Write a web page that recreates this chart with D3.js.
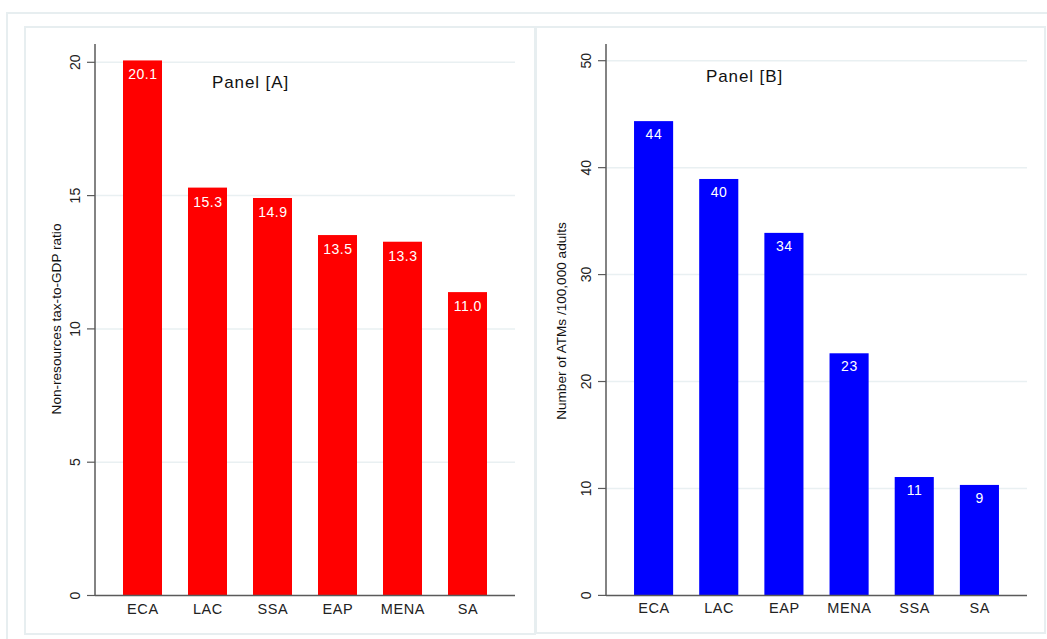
<!DOCTYPE html>
<html>
<head>
<meta charset="utf-8">
<script src="https://cdn.jsdelivr.net/npm/d3@7"></script>
<style>
  html, body { margin: 0; padding: 0; background: #ffffff; }
  svg { display: block; font-family: "Liberation Sans", Arial, Helvetica, sans-serif; }
</style>
</head>
<body>
<svg id="chart" width="1047" height="639"></svg>
<script>
// ---- data ----
const categoriesA = ["ECA", "LAC", "SSA", "EAP", "MENA", "SA"];
const valuesA = [20.07, 15.30, 14.91, 13.52, 13.27, 11.38];
const labelsA = ["20.1", "15.3", "14.9", "13.5", "13.3", "11.0"];
const ticksA = [0, 5, 10, 15, 20];
const titleA = "Panel [A]";
const yTitleA = "Non-resources tax-to-GDP ratio";

const categoriesB = ["ECA", "LAC", "EAP", "MENA", "SSA", "SA"];
const valuesB = [44.35, 38.94, 33.9, 22.64, 11.07, 10.33];
const labelsB = ["44", "40", "34", "23", "11", "9"];
const ticksB = [0, 10, 20, 30, 40, 50];
const titleB = "Panel [B]";
const yTitleB = "Number of ATMs /100,000 adults";

// ---- drawing ----
const svg = d3.select("#chart");
const frameColor = "#e7eef0";
const gridColor = "#e9f0f2";
const axisColor = "#5a5a5a";

// outer frame
svg.append("rect").attr("x", 7).attr("y", 13).attr("width", 1060).attr("height", 650)
  .attr("fill", "#fff").attr("stroke", frameColor).attr("stroke-width", 2);

function panel(cfg) {
  const g = svg.append("g");
  g.append("rect").attr("x", cfg.bx).attr("y", cfg.by).attr("width", cfg.bw).attr("height", cfg.bh)
    .attr("fill", "#fff").attr("stroke", frameColor).attr("stroke-width", 2);

  const y = d3.scaleLinear().domain([0, cfg.topVal]).range([cfg.y0, cfg.yTop]);
  const x = d3.scaleBand().domain(cfg.categories)
    .range([cfg.x0 + 15, cfg.x1 - 15]).paddingInner(0.4).paddingOuter(0.2);

  // gridlines
  g.selectAll(".grid").data(cfg.ticks.filter(t => t > 0)).enter().append("line")
    .attr("x1", cfg.x0).attr("x2", cfg.x1)
    .attr("y1", d => y(d)).attr("y2", d => y(d))
    .attr("stroke", gridColor).attr("stroke-width", 1.5);

  // bars
  g.selectAll(".bar").data(cfg.values).enter().append("rect")
    .attr("x", (d, i) => x(cfg.categories[i]))
    .attr("width", x.bandwidth())
    .attr("y", d => y(d))
    .attr("height", d => y(0) - y(d))
    .attr("fill", cfg.color);

  // bar labels
  g.selectAll(".blab").data(cfg.values).enter().append("text")
    .attr("x", (d, i) => x(cfg.categories[i]) + x.bandwidth() / 2 + 0.3)
    .attr("y", d => y(d) + cfg.labOff)
    .attr("text-anchor", "middle")
    .attr("font-size", 14).attr("letter-spacing", 0.5)
    .attr("fill", "#fff")
    .text((d, i) => cfg.labels[i]);

  // y axis
  g.append("line").attr("x1", cfg.x0).attr("x2", cfg.x0)
    .attr("y1", y(0)).attr("y2", cfg.axisTop)
    .attr("stroke", axisColor).attr("stroke-width", 1.5);
  g.selectAll(".tick").data(cfg.ticks).enter().append("line")
    .attr("x1", cfg.x0 - 8).attr("x2", cfg.x0)
    .attr("y1", d => y(d)).attr("y2", d => y(d))
    .attr("stroke", axisColor).attr("stroke-width", 1.2);
  g.selectAll(".tlab").data(cfg.ticks).enter().append("text")
    .attr("transform", d => `translate(${cfg.x0 - 15},${y(d)}) rotate(-90)`)
    .attr("text-anchor", "middle")
    .attr("font-size", 14).attr("fill", "#222")
    .text(d => d);

  // y title
  g.append("text")
    .attr("transform", `translate(${cfg.titleX},${cfg.titleY}) rotate(-90)`)
    .attr("text-anchor", "middle")
    .attr("font-size", 13.6).attr("fill", "#111")
    .text(cfg.yTitle);

  // x axis
  g.append("line").attr("x1", cfg.x0).attr("x2", cfg.x1)
    .attr("y1", y(0)).attr("y2", y(0))
    .attr("stroke", axisColor).attr("stroke-width", 1.5);
  g.selectAll(".xlab").data(cfg.categories).enter().append("text")
    .attr("x", d => x(d) + x.bandwidth() / 2 + 0.4)
    .attr("y", y(0) + 18)
    .attr("text-anchor", "middle")
    .attr("font-size", 14.5).attr("letter-spacing", 0.6).attr("fill", "#222")
    .text(d => d);

  // panel title
  g.append("text").attr("x", cfg.ptX).attr("y", cfg.ptY)
    .attr("font-size", 17).attr("letter-spacing", 0.9).attr("fill", "#111")
    .text(cfg.title);
}

panel({
  bx: 25, by: 27, bw: 510, bh: 607,
  x0: 95, x1: 515, y0: 595.5, yTop: 62.3, topVal: 20, axisTop: 44,
  categories: categoriesA, values: valuesA, labels: labelsA, ticks: ticksA,
  color: "#ff0000", labOff: 19,
  yTitle: yTitleA, titleX: 61, titleY: 319,
  title: titleA, ptX: 212, ptY: 88
});

panel({
  bx: 536, by: 27, bw: 509, bh: 606,
  x0: 606, x1: 1027, y0: 595.4, yTop: 60.7, topVal: 50, axisTop: 44,
  categories: categoriesB, values: valuesB, labels: labelsB, ticks: ticksB,
  color: "#0000ff", labOff: 18,
  yTitle: yTitleB, titleX: 566, titleY: 321,
  title: titleB, ptX: 706, ptY: 82
});
</script>
</body>
</html>
